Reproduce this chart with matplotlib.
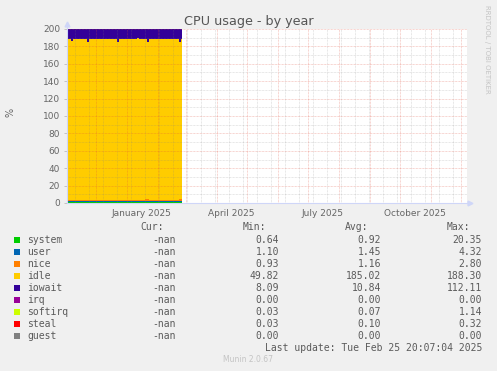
import numpy as np
import pandas as pd
import matplotlib
matplotlib.use('Agg')
import matplotlib.pyplot as plt
import matplotlib.dates as mdates
from matplotlib.patches import Rectangle

W, H = 497, 371

# samples every 2 days, last sample runs up to the update time
dates = pd.date_range('2024-11-02', periods=58, freq='2D')
data_end = pd.Timestamp('2025-02-25 20:07')

system = [0.95, 0.90, 0.88, 0.92, 0.97, 0.90, 0.86, 0.91, 0.94, 0.89,
          1.10, 0.92, 0.88, 0.90, 0.93, 0.87, 0.91, 0.95, 0.89, 0.92,
          0.90, 0.88, 0.94, 0.91, 0.93, 1.05, 0.90, 0.87, 0.92, 0.95,
          0.89, 0.91, 0.93, 0.88, 0.90, 0.94, 0.92, 0.89, 0.91, 0.93,
          1.08, 0.90, 0.88, 0.92, 0.95, 0.91, 0.89, 0.93, 0.90, 0.92,
          0.94, 0.88, 0.91, 0.93, 0.90, 0.92, 1.06, 0.95]
user = [1.48, 1.42, 1.40, 1.45, 1.52, 1.44, 1.39, 1.43, 1.47, 1.41,
        1.65, 1.45, 1.40, 1.42, 1.46, 1.38, 1.43, 1.48, 1.41, 1.44,
        1.42, 1.40, 1.47, 1.43, 1.46, 1.60, 1.42, 1.39, 1.44, 1.48,
        1.41, 1.43, 1.46, 1.40, 1.42, 1.47, 1.45, 1.41, 1.43, 1.46,
        1.62, 1.42, 1.40, 1.44, 1.48, 1.43, 1.41, 1.46, 1.42, 1.45,
        1.47, 1.40, 1.43, 1.46, 1.42, 1.44, 1.58, 1.50]
nice = [1.05, 1.08, 1.04, 1.10, 1.06, 1.60, 1.75, 1.55, 1.08, 1.05,
        1.10, 1.65, 1.50, 1.07, 1.04, 1.06, 1.09, 1.05, 1.08, 1.06,
        1.04, 1.07, 1.05, 1.09, 1.06, 1.12, 1.05, 1.08, 1.04, 1.06,
        1.07, 1.05, 1.09, 1.04, 1.06, 1.08, 1.05, 1.07, 1.60, 1.70,
        1.55, 1.08, 1.05, 1.07, 1.04, 1.06, 1.09, 1.05, 1.07, 1.04,
        1.06, 1.08, 1.05, 1.07, 1.10, 1.60, 1.80, 1.70]
idle = [185.0, 184.6, 183.2, 185.1, 185.4, 184.9, 184.7, 185.0, 185.3, 185.2,
        180.8, 184.8, 185.0, 185.3, 185.5, 185.2, 185.4, 185.1, 185.3, 185.6,
        185.4, 185.2, 185.5, 185.3, 185.6, 181.0, 185.2, 185.4, 185.5, 185.3,
        185.6, 185.4, 185.2, 185.5, 185.3, 185.6, 185.4, 185.2, 184.8, 184.7,
        181.2, 185.0, 185.3, 185.5, 185.2, 185.4, 185.6, 185.3, 185.5, 185.2,
        185.4, 185.3, 185.5, 185.2, 185.1, 184.6, 180.5, 184.8]
iowait = [11.2, 11.6, 13.0, 11.1, 10.8, 10.8, 10.8, 10.7, 10.9, 11.0,
          15.3, 10.8, 10.8, 10.9, 10.7, 11.0, 10.8, 11.1, 10.9, 10.6,
          10.8, 11.0, 10.7, 10.9, 10.6, 15.1, 11.0, 10.8, 10.7, 10.9,
          10.6, 10.8, 11.0, 10.7, 10.9, 10.6, 10.8, 11.0, 10.9, 10.9,
          14.5, 11.2, 10.9, 10.7, 11.0, 10.8, 10.6, 10.9, 10.7, 11.0,
          10.8, 10.9, 10.7, 11.0, 11.1, 11.1, 15.0, 10.8]
irq = [0.00, 0.00, 0.00, 0.00, 0.00, 0.00, 0.00, 0.00, 0.00, 0.00,
       0.00, 0.00, 0.00, 0.00, 0.00, 0.00, 0.00, 0.00, 0.00, 0.00,
       0.00, 0.00, 0.00, 0.00, 0.00, 0.00, 0.00, 0.00, 0.00, 0.00,
       0.00, 0.00, 0.00, 0.00, 0.00, 0.00, 0.00, 0.00, 0.00, 0.00,
       0.00, 0.00, 0.00, 0.00, 0.00, 0.00, 0.00, 0.00, 0.00, 0.00,
       0.00, 0.00, 0.00, 0.00, 0.00, 0.00, 0.00, 0.00]
softirq = [0.07, 0.06, 0.08, 0.07, 0.07, 0.09, 0.06, 0.07, 0.08, 0.07,
           0.09, 0.07, 0.06, 0.07, 0.08, 0.07, 0.06, 0.07, 0.07, 0.08,
           0.07, 0.06, 0.07, 0.08, 0.07, 0.09, 0.07, 0.06, 0.07, 0.07,
           0.08, 0.07, 0.06, 0.07, 0.07, 0.08, 0.07, 0.06, 0.07, 0.08,
           0.09, 0.07, 0.06, 0.07, 0.08, 0.07, 0.07, 0.06, 0.07, 0.08,
           0.07, 0.06, 0.07, 0.07, 0.08, 0.07, 0.09, 0.07]
steal = [0.10, 0.09, 0.11, 0.10, 0.12, 0.10, 0.09, 0.10, 0.11, 0.10,
         0.12, 0.10, 0.09, 0.10, 0.11, 0.10, 0.09, 0.10, 0.10, 0.11,
         0.10, 0.09, 0.10, 0.11, 0.10, 0.12, 0.10, 0.09, 0.10, 0.10,
         0.11, 0.10, 0.09, 0.10, 0.10, 0.11, 0.10, 0.09, 0.10, 0.11,
         0.12, 0.10, 0.09, 0.10, 0.11, 0.10, 0.10, 0.09, 0.10, 0.11,
         0.10, 0.09, 0.10, 0.10, 0.11, 0.10, 0.12, 0.10]
guest = [0.00, 0.00, 0.00, 0.00, 0.00, 0.00, 0.00, 0.00, 0.00, 0.00,
         0.00, 0.00, 0.00, 0.00, 0.00, 0.00, 0.00, 0.00, 0.00, 0.00,
         0.00, 0.00, 0.00, 0.00, 0.00, 0.00, 0.00, 0.00, 0.00, 0.00,
         0.00, 0.00, 0.00, 0.00, 0.00, 0.00, 0.00, 0.00, 0.00, 0.00,
         0.00, 0.00, 0.00, 0.00, 0.00, 0.00, 0.00, 0.00, 0.00, 0.00,
         0.00, 0.00, 0.00, 0.00, 0.00, 0.00, 0.00, 0.00]

names = ['system', 'user', 'nice', 'idle', 'iowait', 'irq', 'softirq', 'steal', 'guest']
series = [system, user, nice, idle, iowait, irq, softirq, steal, guest]
colors = ['#00CC00', '#0066B3', '#FF8000', '#FFCC00', '#330099',
          '#990099', '#CCFF00', '#FF0000', '#808080']

cur_vals = ['-nan', '-nan', '-nan', '-nan', '-nan', '-nan', '-nan', '-nan', '-nan']
min_vals = ['0.64', '1.10', '0.93', '49.82', '8.09', '0.00', '0.03', '0.03', '0.00']
avg_vals = ['0.92', '1.45', '1.16', '185.02', '10.84', '0.00', '0.07', '0.10', '0.00']
max_vals = ['20.35', '4.32', '2.80', '188.30', '112.11', '0.00', '1.14', '0.32', '0.00']

y_ticks = [0, 20, 40, 60, 80, 100, 120, 140, 160, 180, 200]
x_labels = ['January 2025', 'April 2025', 'July 2025', 'October 2025']
x_label_pos = ['2025-01-16', '2025-04-16', '2025-07-16', '2025-10-16']

FONT = '#666666'
AXIS = '#CFD6F8'
MGRID = (0.88, 0.31, 0.24, 0.32)
GRID = (0.5, 0.5, 0.5, 0.25)


def fx(px):
    return px / W


def fy(py):
    return 1 - py / H


fig = plt.figure(figsize=(W / 100, H / 100), dpi=100, facecolor='#F0F0F0')
ax = fig.add_axes([fx(67), fy(203), 400 / W, 174 / H])
ax.set_facecolor('white')

# stacked areas: paint cumulative tops from the highest down, so no seams
x = mdates.date2num(list(dates) + [data_end])
tops = []
base = np.zeros(len(x))
for vals in series:
    base = base + np.array(vals + [vals[-1]])
    tops.append(base.copy())
for top, c in reversed(list(zip(tops, colors))):
    ax.fill_between(x, 0, top, step='post', color=c, lw=0, zorder=2)

x0 = pd.Timestamp('2024-11-02 12:00')
ax.set_xlim(mdates.date2num(x0), mdates.date2num(x0 + pd.Timedelta(days=400)))
ax.set_ylim(0, 200)

# grid, drawn on top like rrdtool
dot = (0, (0.72, 0.72))
for d in pd.date_range('2024-10-27', '2025-12-31', freq='14D'):
    ax.axvline(mdates.date2num(d), color=GRID, lw=0.72, ls=dot, zorder=4)
for d in pd.date_range('2024-11-01', '2025-12-01', freq='MS'):
    ax.axvline(mdates.date2num(d), color=MGRID, lw=0.72, ls=dot, zorder=5)
for v in range(10, 200, 20):
    ax.axhline(v, color=GRID, lw=0.72, ls=dot, zorder=4)
for v in y_ticks[1:]:
    ax.axhline(v, color=MGRID, lw=0.72, ls=dot, zorder=5)

ax.set_yticks(y_ticks)
ax.set_yticklabels([str(v) for v in y_ticks])
ax.set_xticks(mdates.date2num(pd.to_datetime(x_label_pos)))
ax.set_xticklabels(x_labels)
ax.tick_params(axis='x', length=0, pad=4, labelsize=6.5, labelcolor=FONT)
ax.tick_params(axis='y', length=2, width=0.6, color='#bbbbbb', pad=3,
               labelsize=6.5, labelcolor=FONT)

for s in ['top', 'right']:
    ax.spines[s].set_visible(False)
for s in ['left', 'bottom']:
    ax.spines[s].set_color(AXIS)
    ax.spines[s].set_linewidth(0.8)
    ax.spines[s].set_zorder(6)

# axis arrows
ax.plot([0, 0], [1, 1.025], color=AXIS, lw=0.8, transform=ax.transAxes, clip_on=False)
ax.plot([0], [1.03], marker='^', ms=3.5, color=AXIS, mec=AXIS,
        transform=ax.transAxes, clip_on=False)
ax.plot([1, 1.005], [0, 0], color=AXIS, lw=0.8, transform=ax.transAxes, clip_on=False)
ax.plot([1.008], [0], marker='>', ms=3.5, color=AXIS, mec=AXIS,
        transform=ax.transAxes, clip_on=False)

fig.text(fx(248.5), fy(25), 'CPU usage - by year', ha='center', va='baseline',
         fontsize=9.2, color='#555555')
fig.text(fx(10), fy(112), '%', rotation=90, ha='center', va='center',
         fontsize=7, color=FONT)
fig.text(fx(487), fy(5), 'RRDTOOL / TOBI OETIKER', rotation=270, ha='center', va='top',
         fontsize=5, color='#c4c4c4')

# legend table
mono = 'DejaVu Sans Mono'
lc = '#5a5a5a'
hy = 227
fig.text(fx(140), fy(hy), 'Cur:', family=mono, fontsize=7, color=lc, va='center')
fig.text(fx(243), fy(hy), 'Min:', family=mono, fontsize=7, color=lc, va='center')
fig.text(fx(345), fy(hy), 'Avg:', family=mono, fontsize=7, color=lc, va='center')
fig.text(fx(447), fy(hy), 'Max:', family=mono, fontsize=7, color=lc, va='center')
for i, name in enumerate(names):
    yy = 240 + i * 12
    fig.patches.append(Rectangle((fx(14), fy(yy + 3)), 6 / W, 6 / H,
                                 transform=fig.transFigure, color=colors[i], lw=0))
    fig.text(fx(27), fy(yy), name, family=mono, fontsize=7, color=lc, va='center')
    fig.text(fx(176), fy(yy), cur_vals[i], family=mono, fontsize=7, color=lc,
             va='center', ha='right')
    fig.text(fx(279), fy(yy), min_vals[i], family=mono, fontsize=7, color=lc,
             va='center', ha='right')
    fig.text(fx(381), fy(yy), avg_vals[i], family=mono, fontsize=7, color=lc,
             va='center', ha='right')
    fig.text(fx(482), fy(yy), max_vals[i], family=mono, fontsize=7, color=lc,
             va='center', ha='right')

fig.text(fx(482), fy(348), 'Last update: Tue Feb 25 20:07:04 2025', family=mono,
         fontsize=7, color=lc, va='center', ha='right')
fig.text(fx(248), fy(360), 'Munin 2.0.67', ha='center', va='center',
         fontsize=5.5, color='#c4c4c4')

fig.savefig('out.png', dpi=100, facecolor=fig.get_facecolor())
